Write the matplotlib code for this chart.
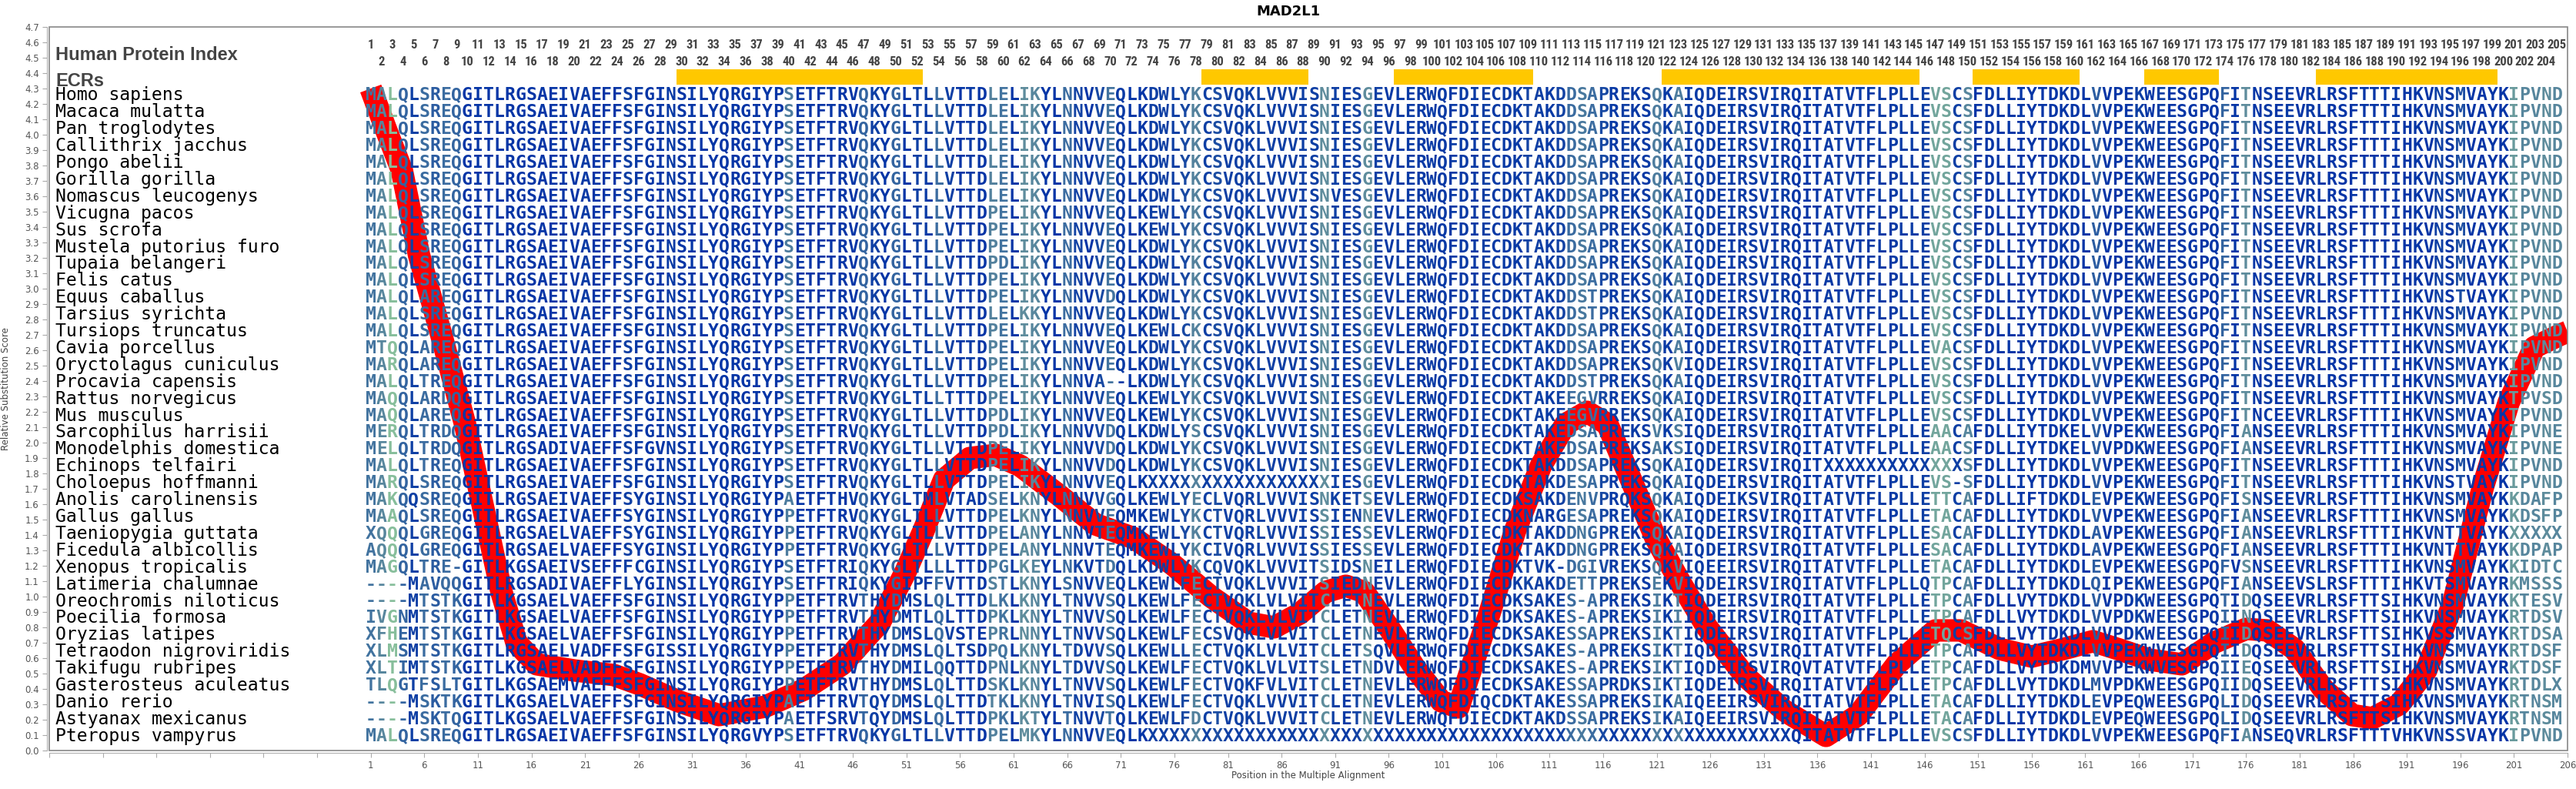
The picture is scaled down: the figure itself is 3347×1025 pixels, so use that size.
import matplotlib
matplotlib.use("Agg")
import matplotlib.pyplot as plt
from matplotlib import font_manager
from matplotlib.colors import LinearSegmentedColormap
from matplotlib.patches import Rectangle

title = "MAD2L1"

species = [
    "Homo sapiens", "Macaca mulatta", "Pan troglodytes", "Callithrix jacchus",
    "Pongo abelii", "Gorilla gorilla", "Nomascus leucogenys", "Vicugna pacos",
    "Sus scrofa", "Mustela putorius furo", "Tupaia belangeri", "Felis catus",
    "Equus caballus", "Tarsius syrichta", "Tursiops truncatus", "Cavia porcellus",
    "Oryctolagus cuniculus", "Procavia capensis", "Rattus norvegicus",
    "Mus musculus", "Sarcophilus harrisii", "Monodelphis domestica",
    "Echinops telfairi", "Choloepus hoffmanni", "Anolis carolinensis",
    "Gallus gallus", "Taeniopygia guttata", "Ficedula albicollis",
    "Xenopus tropicalis", "Latimeria chalumnae", "Oreochromis niloticus",
    "Poecilia formosa", "Oryzias latipes", "Tetraodon nigroviridis",
    "Takifugu rubripes", "Gasterosteus aculeatus", "Danio rerio",
    "Astyanax mexicanus", "Pteropus vampyrus",
]

# alignment columns 1-34
seg_a = [
    "MALQLSREQGITLRGSAEIVAEFFSFGINSILYQ", "MALQLSREQGITLRGSAEIVAEFFSFGINSILYQ",
    "MALQLSREQGITLRGSAEIVAEFFSFGINSILYQ", "MALQLSREQGITLRGSAEIVAEFFSFGINSILYQ",
    "MALQLSREQGITLRGSAEIVAEFFSFGINSILYQ", "MALQLSREQGITLRGSAEIVAEFFSFGINSILYQ",
    "MALQLSREQGITLRGSAEIVAEFFSFGINSILYQ", "MALQLSREQGITLRGSAEIVAEFFSFGINSILYQ",
    "MALQLSREQGITLRGSAEIVAEFFSFGINSILYQ", "MALQLSREQGITLRGSAEIVAEFFSFGINSILYQ",
    "MALQLSREQGITLRGSAEIVAEFFSFGINSILYQ", "MALQLSREQGITLRGSAEIVAEFFSFGINSILYQ",
    "MALQLAREQGITLRGSAEIVAEFFSFGINSILYQ", "MALQLSREQGITLRGSAEIVAEFFSFGINSILYQ",
    "MALQLSREQGITLRGSAEIVAEFFSFGINSILYQ", "MTQQLAREQGITLRGSAEIVAEFFSFGINSILYQ",
    "MARQLAREQGITLRGSAEIVAEFFSFGINSILYQ", "MALQLTREQGITLRGSAEIVAEFFSFGINSILYQ",
    "MAQQLARDQGITLRGSAEIVAEFFSFGINSILYQ", "MAQQLAREQGITLRGSAEIVAEFFSFGINSILYQ",
    "MERQLTRDQGITLRGSAEIVAEFFSFGINSILYQ", "MELQLTRDQGITLRGSADIVAEFFSFGVNSILYQ",
    "MALQLTREQGITLRGSAEIVAEFFSFGINSILYQ", "MARQLSREQGITLRGSAEIVAEFFSFGINSILYQ",
    "MAKQQSREQGITLRGSAEIVAEFFSYGINSILYQ", "MAAQLSREQGITLRGSAEIVAEFFSYGINSILYQ",
    "XQQQLGREQGITLRGSAELVAEFFSYGINSILYQ", "AQQQLGREQGITLRGSAELVAEFFSYGINSILYQ",
    "MAGQLTRE-GITLKGSAEIVSEFFFCGINSILYQ", "----MAVQQGITLRGSADIVAEFFLYGINSILYQ",
    "----MTSTKGITLKGSAELVAEFFSFGINSILYQ", "IVGNMTSTKGITLKGSAELVAEFFSFGINSILYQ",
    "XFHEMTSTKGITLKGSAELVAEFFSFGINSILYQ", "XLMSMTSTKGITLRGSAELVADFFSFGISSILYQ",
    "XLTIMTSTKGITLKGSAELVADFFSFGINSILYQ", "TLQGTFSLTGITLKGSAEMVAEFFSFGINSILYQ",
    "----MSKTKGITLKGSAELVAEFFSFGINSILYQ", "----MSKTQGITLKGSAELVAEFFSFGINSILYQ",
    "MALQLSREQGITLRGSAEIVAEFFSFGINSILYQ",
]

# alignment columns 35-69
seg_b = [
    "RGIYPSETFTRVQKYGLTLLVTTDLELIKYLNNVV", "RGIYPSETFTRVQKYGLTLLVTTDLELIKYLNNVV",
    "RGIYPSETFTRVQKYGLTLLVTTDLELIKYLNNVV", "RGIYPSETFTRVQKYGLTLLVTTDLELIKYLNNVV",
    "RGIYPSETFTRVQKYGLTLLVTTDLELIKYLNNVV", "RGIYPSETFTRVQKYGLTLLVTTDLELIKYLNNVV",
    "RGIYPSETFTRVQKYGLTLLVTTDLELIKYLNNVV", "RGIYPSETFTRVQKYGLTLLVTTDPELIKYLNNVV",
    "RGIYPSETFTRVQKYGLTLLVTTDPELIKYLNNVV", "RGIYPSETFTRVQKYGLTLLVTTDPELIKYLNNVV",
    "RGIYPSETFTRVQKYGLTLLVTTDPDLIKYLNNVV", "RGIYPSETFTRVQKYGLTLLVTTDPELIKYLNNVV",
    "RGIYPSETFTRVQKYGLTLLVTTDPELIKYLNNVV", "RGIYPSETFTRVQKYGLTLLVTTDLELKKYLNNVV",
    "RGIYPSETFTRVQKYGLTLLVTTDPELIKYLNNVV", "RGIYPSETFTRVQKYGLTLLVTTDPELIKYLNNVV",
    "RGIYPSETFTRVQKYGLTLLVTTDPELIKYLNNVV", "RGIYPSETFTRVQKYGLTLLVTTDPELIKYLNNVA",
    "RGIYPSETFTRVQKYGLTLLTTTDPELIKYLNNVV", "RGIYPSETFTRVQKYGLTLLVTTDPDLIKYLNNVV",
    "RGIYPSETFTRVQKYGLTLLVTTDPDLIKYLNNVV", "RGIYPSETFTRVQKYGLTLLVTTDPELIKYLNNVV",
    "RGIYPSETFTRVQKYGLTLLVTTDPELIKYLNNVV", "RGIYPSETFTRVQKYGLTLLVTTDPELIKYLNNVV",
    "RGIYPAETFTHVQKYGLTMLVTADSELKNYLNNVV", "RGIYPPETFTRVQKYGLTLLVTTDPELKNYLNNVV",
    "RGIYPPETFTRVQKYGLTLLVTTDPELANYLNNVT", "RGIYPPETFTRVQKYGLTLLVTTDPELANYLNNVT",
    "RGIYPSETFTRIQKYGLTLLLTTDPGLKEYLNKVT", "RGIYPSETFTRIQKYGIPFFVTTDSTLKNYLSNVV",
    "RGIYPPETFTRVTHYDMSLQLTTDLKLKNYLTNVV", "RGIYPPETFTRVTHYDMTLQLTTDPKLKNYLTNVV",
    "RGIYPPETFTRVTHYDMSLQVSTEPRLNNYLTNVV", "RGIYPPETFTRVTHYDMSLQLTSDPQLKNYLTDVV",
    "RGIYPPETFTRVTHYDMILQQTTDPNLKNYLTDVV", "RGIYPPETFTRVTHYDMSLQLTTDSKLKNYLTNVV",
    "RGIYPAETFTRVTQYDMSLQLTTDTKLKNYLTNVI", "RGIYPAETFSRVTQYDMSLQLTTDPKLKTYLTNVV",
    "RGVYPSETFTRVQKYGLTLLVTTDPELMKYLNNVV",
]

# alignment columns 70-103
seg_c = [
    "EQLKDWLYKCSVQKLVVVISNIESGEVLERWQFD", "EQLKDWLYKCSVQKLVVVISNIESGEVLERWQFD",
    "EQLKDWLYKCSVQKLVVVISNIESGEVLERWQFD", "EQLKDWLYKCSVQKLVVVISNIESGEVLERWQFD",
    "EQLKDWLYKCSVQKLVVVISNIESGEVLERWQFD", "EQLKDWLYKCSVQKLVVVISNIESGEVLERWQFD",
    "EQLKDWLYKCSVQKLVVVISNVESGEVLERWQFD", "EQLKEWLYKCSVQKLVVVISNIESGEVLERWQFD",
    "EQLKEWLYKCSVQKLVVVISNIESGEVLERWQFD", "EQLKDWLYKCSVQKLVVVISNIESGEVLERWQFD",
    "EQLKDWLYKCSVQKLVVVISNIESGEVLERWQFD", "EQLKDWLYKCSVQKLVVVISNIESGEVLERWQFD",
    "DQLKDWLYKCSVQKLVVVISNIESGEVLERWQFD", "EQLKDWLYKCSVQKLVVVISNIESGEVLERWQFD",
    "EQLKEWLCKCSVQKLVVVISNIESGEVLERWQFD", "EQLKDWLYKCSVQKLVVVISNIESGEVLERWQFD",
    "EQLKDWLYKCSVQKLVVVISNIESGEVLERWQFD", "--LKDWLYKCSVQKLVVVISNIESGEVLERWQFD",
    "EQLKEWLYKCSVQKLVVVISNIESGEVLERWQFD", "EQLKEWLYKCSVQKLVVVISNIESGEVLERWQFD",
    "DQLKDWLYSCSVQKLVVVISNIESGEVLERWQFD", "DQLKDWLYKCSVQKLVVVISNIESGEVLERWQFD",
    "DQLKDWLYKCSVQKLVVVISNIESGEVLERWQFD", "EQLKXXXXXXXXXXXXXXXXXIESGEVLERWQFD",
    "GQLKEWLYECLVQRLVVVISNKETSEVLERWQFD", "EQMKEWLYKCTVQRLVVVISSIENNEVLERWQFD",
    "EQMKEWLYKCTVQRLVVVISSIESSEVLERWQFD", "EQMKEWLYKCIVQRLVVVISSIESSEVLERWQFD",
    "DQLKDWLYKCQVQKLVVVITSIDSNEILERWQFD", "EQLKEWLFECTVQKLVVVITSIEDNEVLERWQFD",
    "SQLKEWLFECTVQKLVLVITCLETNEVLERWQFD", "SQLKEWLFECTVQKLVLVITCLETNEVLERWQFD",
    "SQLKEWLFECSVQKLVLVITCLETNEVLERWQFD", "SQLKEWLLECTVQKLVLVITCLETSQVLERWQFD",
    "SQLKEWLFECTVQKLVLVITSLETNDVLERWQFD", "SQLKEWLFECTVQKFVLVITCLETNEVLERWQFD",
    "SQLKEWLFECTVQKLVVVITCLETNEVLERWQFD", "TQLKEWLFDCTVQKLVVVITCLETNEVLERWQFD",
    "EQLKXXXXXXXXXXXXXXXXXXXXXXXXXXXXXX",
]

# alignment columns 104-138
seg_d = [
    "IECDKTAKDDSAPREKSQKAIQDEIRSVIRQITAT", "IECDKTAKDDSAPREKSQKAIQDEIRSVIRQITAT",
    "IECDKTAKDDSAPREKSQKAIQDEIRSVIRQITAT", "IECDKTAKDDSAPREKSQKAIQDEIRSVIRQITAT",
    "IECDKTAKDDSAPREKSQKAIQDEIRSVIRQITAT", "IECDKTAKDDSAPREKSQKAIQDEIRSVIRQITAT",
    "IECDKTAKDDSAPREKSQKAIQDEIRSVIRQITAT", "IECDKTAKDDSAPREKSQKAIQDEIRSVIRQITAT",
    "IECDKTAKDDSAPREKSQKAIQDEIRSVIRQITAT", "IECDKTAKDDSAPREKSQKAIQDEIRSVIRQITAT",
    "IECDKTAKDDSAPREKSQKAIQDEIRSVIRQITAT", "IECDKTAKDDSAPREKSQKAIQDEIRSVIRQITAT",
    "IECDKTAKDDSTPREKSQKAIQDEIRSVIRQITAT", "IECDKTAKDDSTPREKSQKAIQDEIRSVIRQITAT",
    "IECDKTAKDDSAPREKSQKAIQDEIRSVIRQITAT", "IECDKTAKDDSAPREKSQKAIQDEIRSVIRQITAT",
    "IECDKTAKDDSAPREKSQKVIQDEIRSVIRQITAT", "IECDKTAKDDSTPREKSQKAIQDEIRSVIRQITAT",
    "IECDKTAKEEGVRREKSQKAIQDEIRSVIRQITAT", "IECDKTAKEEGVRREKSQKAIQDEIRSVIRQITAT",
    "IECDKTAKEDSAPREKSVKSIQDEIRSVIRQITAT", "IECDKTAKEDSAPREKSAKSIQDEIRSVIRQITAT",
    "IECDKTAKDDSAPREKSQKAIQDEIRSVIRQITXX", "IECDKTAKDESAPREKSQKAIQDEIRSVIRQITAT",
    "IECDKSAKDENVPRQKSQKAIQDEIKSVIRQITAT", "IECDKNARGESAPREKSQKAIQDEIRSVIRQITAT",
    "IECDKTAKDDNGPREKSQKAIQDEIRSVIRQITAT", "IECDKTAKDDNGPREKSQKAIQDEIRSVIRQITAT",
    "IECDKTVK-DGIVREKSQKVIQEEIRSVIRQITAT", "IECDKKAKDETTPREKSEKVIQDEIRSVIRQITAT",
    "IECDKSAKES-APREKSIKTIQDEIRSVIRQITAT", "IECDKSAKES-APREKSIKIIQDEIRSVIRQITAT",
    "IECDKSAKESSAPREKSIKTIQDEIRSVIRQITAT", "IECDKSAKES-APREKSIKTIQDEIRSVIRQITAT",
    "IECDKSAKES-APREKSIKTIQDEIRSVIRQVTAT", "IECDKSAKESSAPRDKSIKTIQDEIRSVIRQITAT",
    "IQCDKTAKESSAPREKSIKAIQEEIRSVIRQITAT", "IECDKTAKDSSAPREKSIKAIQEEIRSVIRQITAT",
    "XXXXXXXXXXXXXXXXXXXXXXXXXXXXXXQITAT",
]

# alignment columns 139-171
seg_e = [
    "VTFLPLLEVSCSFDLLIYTDKDLVVPEKWEESG", "VTFLPLLEVSCSFDLLIYTDKDLVVPEKWEESG",
    "VTFLPLLEVSCSFDLLIYTDKDLVVPEKWEESG", "VTFLPLLEVSCSFDLLIYTDKDLVVPEKWEESG",
    "VTFLPLLEVSCSFDLLIYTDKDLVVPEKWEESG", "VTFLPLLEVSCSFDLLIYTDKDLVVPEKWEESG",
    "VTFLPLLEVSCSFDLLIYTDKDLVVPEKWEESG", "VTFLPLLEVSCSFDLLIYTDKDLVVPEKWEESG",
    "VTFLPLLEVSCSFDLLIYTDKDLVVPEKWEESG", "VTFLPLLEVSCSFDLLIYTDKDLVVPEKWEESG",
    "VTFLPLLEVSCSFDLLIYTDKDLVVPEKWEESG", "VTFLPLLEVSCSFDLLIYTDKDLVVPEKWEESG",
    "VTFLPLLEVSCSFDLLIYTDKDLVVPEKWEESG", "VTFLPLLEVSCSFDLLIYTDKDLVVPEKWEESG",
    "VTFLPLLEVSCSFDLLIYTDKDLVVPEKWEESG", "VTFLPLLEVACSFDLLIYTDKDLVVPEKWEESG",
    "VTFLPLLEVSCSFDLLIYTDKDLVVPEKWEESG", "VTFLPLLEVSCSFDLLIYTDKDLVVPEKWEESG",
    "VTFLPLLEVSCSFDLLIYTDKDLVVPEKWEESG", "VTFLPLLEVSCSFDLLIYTDKDLVVPEKWEESG",
    "VTFLPLLEAACAFDLLIYTDKELVVPEKWEESG", "VTFLPLLEAACSFDLLIYTDKELVVPDKWEESG",
    "XXXXXXXXXXXSFDLLIYTDKDLVVPEKWEESG", "VTFLPLLEVS-SFDLLIYTDKDLVVPEKWEESG",
    "VTFLPLLETTCAFDLLIFTDKDLEVPEKWEESG", "VTFLPLLETACAFDLLIYTDKDLVVPEKWEESG",
    "VTFLPLLESACAFDLLIYTDKDLAVPEKWEESG", "VTFLPLLESACAFDLLIYTDKDLAVPEKWEESG",
    "VTFLPLLETACAFDLLIYTDKDLEVPEKWEESG", "VTFLPLLQTPCAFDLLIYTDKDLQIPEKWEESG",
    "VTFLPLLETPCAFDLLVYTDKDLVVPDKWEESG", "VTFLPLLETPCAFDLLVYTDKDLVVPDKWEESG",
    "VTFLPLLETQCSFDLLVYTDKDLVVPDKWEESG", "VTFLPLLETPCAFDLLVYTDKDLVVPEKWVESG",
    "VTFLPLLETPCAFDLLVYTDKDMVVPEKWVESG", "VTFLPLLETPCAFDLLVYTDKDLMVPDKWEESG",
    "VTFLPLLETACAFDLLIYTDKDLEVPEQWEESG", "VTFLPLLETACAFDLLIYTDKDLEVPEQWEESG",
    "VTFLPLLEVSCSFDLLIYTDKDLVVPEKWEESG",
]

# alignment columns 172-205
seg_f = [
    "PQFITNSEEVRLRSFTTTIHKVNSMVAYKIPVND", "PQFITNSEEVRLRSFTTTIHKVNSMVAYKIPVND",
    "PQFITNSEEVRLRSFTTTIHKVNSMVAYKIPVND", "PQFITNSEEVRLRSFTTTIHKVNSMVAYKIPVND",
    "PQFITNSEEVRLRSFTTTIHKVNSMVAYKIPVND", "PQFITNSEEVRLRSFTTTIHKVNSMVAYKIPVND",
    "PQFITNSEEVRLRSFTTTIHKVNSMVAYKIPVND", "PQFITNSEEVRLRSFTTTIHKVNSMVAYKIPVND",
    "PQFITNSEEVRLRSFTTTIHKVNSMVAYKIPVND", "PQFITNSEEVRLRSFTTTIHKVNSMVAYKIPVND",
    "PQFITNSEEVRLRSFTTTIHKVNSMVAYKIPVND", "PQFITNSEEVRLRSFTTTIHKVNSMVAYKIPVND",
    "PQFITNSEEVRLRSFTTTIHKVNSTVAYKIPVND", "PQFITNSEEVRLRSFTTTIHKVNSMVAYKIPVND",
    "PQFITNSEEVRLRSFTTTIHKVNSMVAYKIPVND", "PQFITNSEEVRLRSFTTTIHKVNSMVAYKIPVND",
    "PQFITNSEEVRLRSFTTTIHKVNSMVAYKIPVND", "PQFITNSEEVRLRSFTTTIHKVNSMVAYKIPVND",
    "PQFITNSEEVRLRSFTTTIHKVNSMVAYKTPVSD", "PQFITNCEEVRLRSFTTTIHKVNSMVAYKTPVND",
    "PQFIANSEEVRLRSFTTTIHKVNSMVAYKIPVNE", "PQFIANSEEVRLRSFTTTIHKVNSMVAYKIPVNE",
    "PQFITNSEEVRLRSFTTTIHKVNSMVAYKIPVND", "PQFITNSEEVRLRSFTTTIHKVNSTVAYKIPVND",
    "PQFISNSEEVRLRSFTTTIHKVNSMVAYKKDAFP", "PQFIANSEEVRLRSFTTTIHKVNSMVAYKKDSFP",
    "PQFIANSEEVRLRSFTTTIHKVNTTVAYKXXXXX", "PQFIANSEEVRLRSFTTTIHKVNTTVAYKKDPAP",
    "PQFVSNSEEVRLRSFTTTIHKVNSMVAYKKIDTC", "PQFIANSEEVSLRSFTTTIHKVTSMVAYRKMSSS",
    "PQTIDQSEEVRLRSFTTSIHKVNSMVAYKKTESV", "PQIINQSEEVRLRSFTTSIHKVNSMVAYKRTDSV",
    "PQIIDQSEEVRLRSFTTSIHKVSSMVAYKRTDSA", "PQIIDQSEEVRLRSFTTSIHKVNSMVAYKRTDSF",
    "PQIIEQSEEVRLRSFTTSIHKVNSMVAYRKTDSF", "PQIIDQSEEVRLRSFTTSIHKVNSMVAYKRTDLX",
    "PQLIDQSEEVRLRSFTTSIHKVNSMVAYKRTNSM", "PQLIDQSEEVRLRSFTTSIHKVNSMVAYKRTNSM",
    "PQFIANSEQVRLRSFTTTVHKVNSSVAYKIPVND",
]

# evolutionarily conserved regions (first/last residue)
ecr_start = [30, 79, 97, 122, 151, 167, 183]
ecr_end = [52, 88, 109, 145, 160, 173, 199]

# relative substitution score (red curve)
score_pos = [1, 2.5, 3.9, 5.5, 7.7, 9.8, 11.5, 13.2, 14.6, 16.5, 20, 23.7, 26.1,
             29.7, 33.5, 37.8, 41.4, 45, 48.5, 50.9, 52.6, 54.5, 56.9, 59.3, 61.6,
             65.2, 68.6, 72.2, 75.8, 79.4, 82.9, 85.3, 87.7, 90.1, 92, 93.7, 96,
             98.5, 100.9, 102.5, 105.4, 107.8, 110.2, 112.5, 114.5, 116.4, 118.6,
             120.9, 123.3, 125.7, 129.3, 132.9, 136.8, 139.8, 143.4, 147, 149.4,
             153, 156, 159, 161.7, 164, 167, 170, 173, 176, 178, 180.5, 183.2,
             185.9, 187.8, 190.3, 192.8, 195.3, 198.1, 200.5, 202.9, 205.3, 206]
score_val = [4.30, 4.02, 3.77, 3.22, 2.67, 2.12, 1.575, 1.03, 0.70, 0.56, 0.52, 0.49,
             0.43, 0.32, 0.23, 0.285, 0.395, 0.56, 0.83, 1.16, 1.43, 1.76, 1.90, 1.92,
             1.85, 1.66, 1.47, 1.38, 1.21, 1.00, 0.83, 0.80, 0.89, 1.03, 1.07, 1.03,
             0.80, 0.53, 0.32, 0.28, 0.89, 1.43, 1.85, 2.12, 2.20, 2.12, 1.76, 1.38,
             1.08, 0.80, 0.48, 0.26, 0.095, 0.23, 0.56, 0.78, 0.78, 0.66, 0.61, 0.66,
             0.71, 0.66, 0.59, 0.56, 0.70, 0.79, 0.78, 0.66, 0.40, 0.23, 0.21, 0.30,
             0.52, 0.95, 1.71, 2.26, 2.62, 2.70, 2.72]

alignment = [a + b + c + d + e + f for a, b, c, d, e, f in
             zip(seg_a, seg_b, seg_c, seg_d, seg_e, seg_f)]
n_cols = max(len(s) for s in alignment)
alignment = [s.ljust(n_cols, "-")[:n_cols] for s in alignment]


def has_font(name):
    try:
        font_manager.findfont(font_manager.FontProperties(family=name),
                              fallback_to_default=False)
        return True
    except Exception:
        return False


# narrow bold digits for the protein index if a condensed face is installed
narrow, idx_size = "Liberation Sans", 10
for cand in ["Liberation Sans Narrow", "Roboto Condensed", "DejaVu Sans Condensed"]:
    if has_font(cand):
        narrow, idx_size = cand, 12 if "Narrow" in cand or "Roboto" in cand else 10.5
        break

# column colour from how similar the residues in a column are
groups = ["ILVM", "FYW", "KRH", "DE", "NQ", "ST", "AG", "C", "P"]
cons_cmap = LinearSegmentedColormap.from_list(
    "cons", [(0.0, "#8cc59b"), (0.5, "#8cc59b"), (0.62, "#5c8a9c"),
             (0.74, "#44749f"), (0.87, "#1d4ea2"), (1.0, "#0535a6")])
col_colors = []
for j in range(n_cols):
    col = [s[j] for s in alignment]
    best = max(sum(1 for c in col if c in g) for g in groups)
    col_colors.append(cons_cmap(best / len(col)))

W, H, DPI = 3347, 1025, 100
fig = plt.figure(figsize=(W / DPI, H / DPI), dpi=DPI)
x0, x1, y0, y1 = 64, 3336, 35, 975
ax = fig.add_axes([x0 / W, 1 - y1 / H, (x1 - x0) / W, (y1 - y0) / H])
xmin, xmax = -29, 206
ax.set_xlim(xmin, xmax)
ax.set_ylim(0, 4.7)

px_per_unit = (x1 - x0) / (xmax - xmin)
fs_seq = px_per_unit / 0.60205 * 72 / DPI

# red substitution score curve
ax.plot(score_pos, score_val, color="#ff0000", lw=21, solid_capstyle="butt",
        solid_joinstyle="round", zorder=1)

row_step = 0.1095
row_y = [4.255 - i * row_step for i in range(len(species))]

for i, name in enumerate(species):
    ax.text(-28.4, row_y[i], name, ha="left", va="center", fontsize=fs_seq,
            family="DejaVu Sans Mono", color="black", zorder=3)
    seq = alignment[i]
    for j, ch in enumerate(seq):
        ax.text(j + 1, row_y[i], ch, ha="center", va="center", fontsize=fs_seq,
                family="DejaVu Sans Mono", fontweight="bold", color=col_colors[j],
                zorder=3)

# human protein index
for p in range(1, n_cols + 1):
    ax.text(p, 4.58 if p % 2 else 4.47, str(p), ha="center", va="center",
            fontsize=idx_size, family=narrow, fontweight="bold", color="#444444",
            zorder=3)

ax.text(-28.4, 4.515, "Human Protein Index", ha="left", va="center", fontsize=17,
        family="Liberation Sans", fontweight="bold", color="#444444")
ax.text(-28.4, 4.35, "ECRs", ha="left", va="center", fontsize=17,
        family="Liberation Sans", fontweight="bold", color="#444444")

for s, e in zip(ecr_start, ecr_end):
    ax.barh(4.375, e - s + 1, left=s - 0.5, height=0.1, color="#ffc800",
            edgecolor="none", zorder=2)

# axes styling
ax.add_patch(Rectangle((0, 0), 1, 1, transform=ax.transAxes, fill=False,
                       edgecolor="#888888", lw=1.2, clip_on=False, zorder=5))
for s in ["top", "right"]:
    ax.spines[s].set_visible(False)
for s in ["left", "bottom"]:
    ax.spines[s].set_position(("outward", 2.5))
    ax.spines[s].set_color("#b0b0b0")

xt = list(range(xmin, xmax + 1, 5))
ax.set_xticks(xt)
ax.set_xticklabels([str(v) if v >= 1 else "" for v in xt])
yt = [k / 10 for k in range(48)]
ax.set_yticks(yt)
ax.set_yticklabels(["%.1f" % v for v in yt])
ax.tick_params(direction="out", length=4, width=0.8, color="#aaaaaa",
               labelsize=8.5, labelcolor="#555555", pad=3)

fig.text(0.5, 1 - 15 / H, title, ha="center", va="center", fontsize=13,
         fontweight="bold", color="black")
fig.text(8 / W, 1 - 505 / H, "Relative Substitution Score", rotation=90,
         ha="center", va="center", fontsize=8.5, color="#444444")
fig.text((x0 + x1) / 2 / W, 1 - 1008 / H, "Position in the Multiple Alignment",
         ha="center", va="center", fontsize=8.5, color="#444444")

fig.savefig("out.png", dpi=DPI)
